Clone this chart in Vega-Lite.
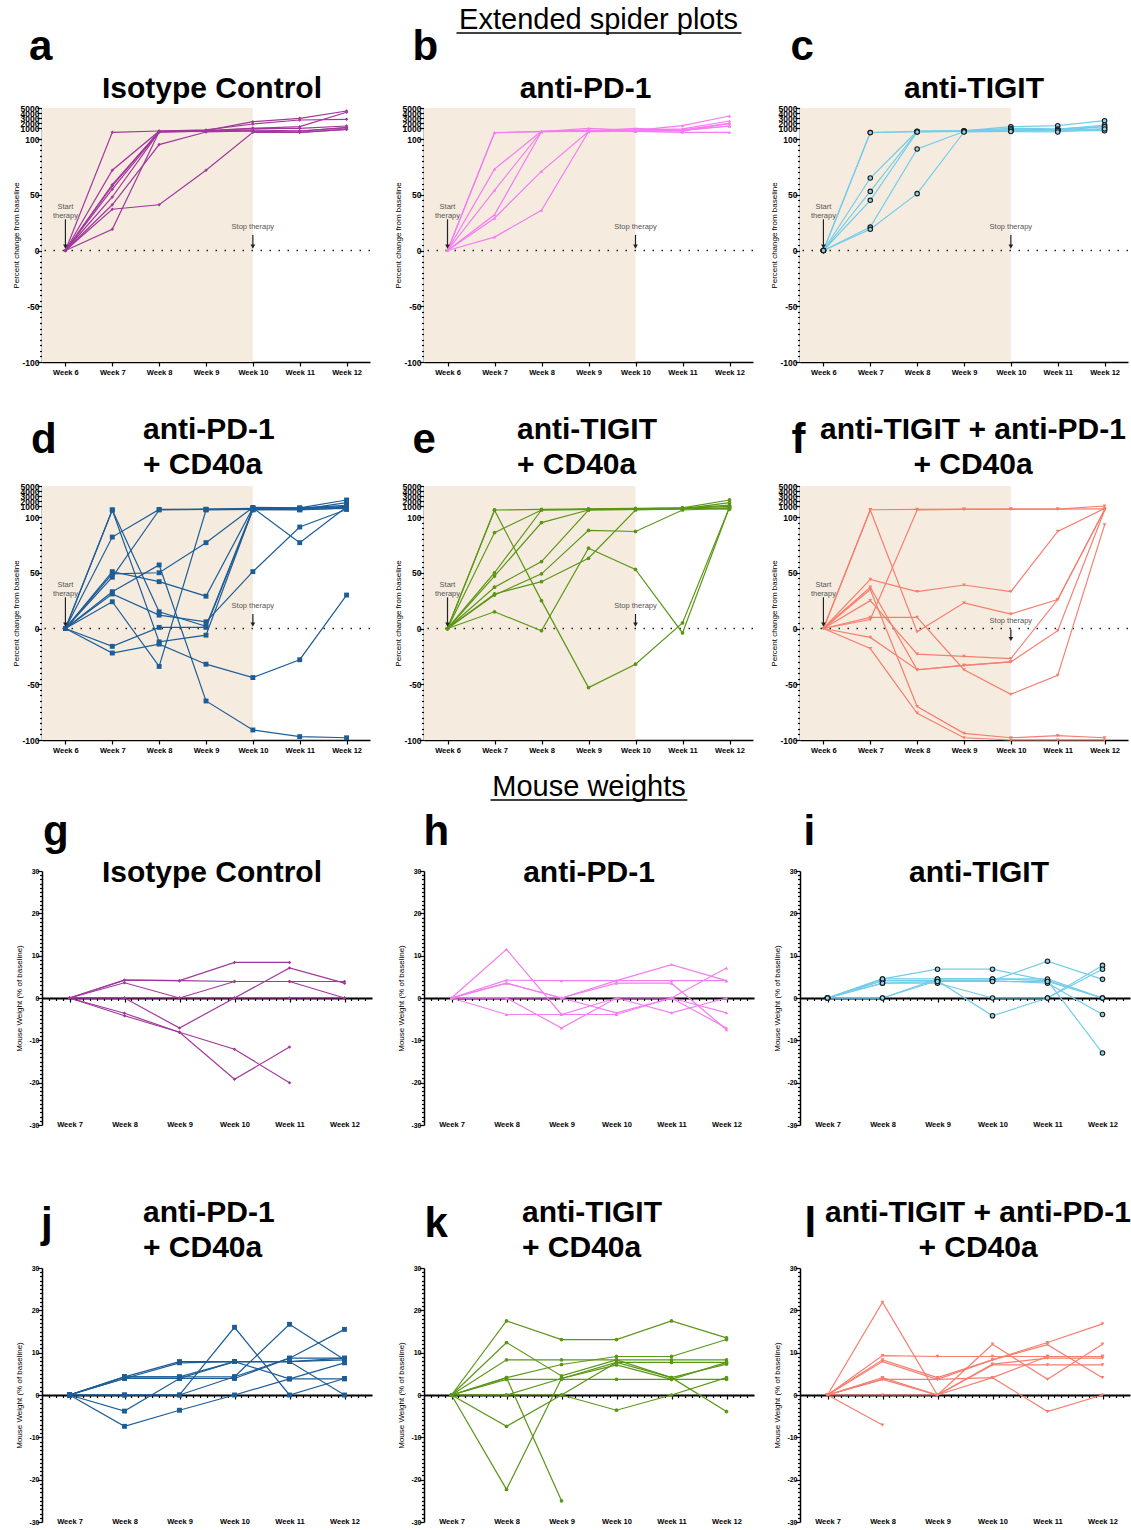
{
"$schema": "https://vega.github.io/schema/vega-lite/v6.json",
"padding": {"left": 12, "top": 0, "right": 0, "bottom": 0},
"background": "white",
"config": {
  "font": "Liberation Sans",
  "view": {"stroke": null},
  "axis": {"domainColor": "#000", "domainWidth": 1.5, "tickColor": "#000", "tickWidth": 1.2, "labelColor": "#000", "labelFont": "Liberation Sans", "labelFontWeight": "bold", "labelFontSize": 7.5, "titleFont": "Liberation Sans", "titleFontWeight": "normal", "titleFontSize": 8, "titleColor": "#000", "grid": false, "labelOverlap": false, "labelFlush": false},
  "title": {"font": "Liberation Sans", "color": "#000", "fontWeight": "bold"}
},
"datasets": {
"spider": [
{"p":"a","m":1,"w":6,"v":0},{"p":"a","m":1,"w":7,"v":240},{"p":"a","m":1,"w":8,"v":490},{"p":"a","m":1,"w":9,"v":560},{"p":"a","m":1,"w":10,"v":2320},{"p":"a","m":1,"w":11,"v":2980},{"p":"a","m":1,"w":12,"v":4413},
{"p":"a","m":2,"w":6,"v":0},{"p":"a","m":2,"w":7,"v":72},{"p":"a","m":2,"w":8,"v":450},{"p":"a","m":2,"w":9,"v":700},{"p":"a","m":2,"w":10,"v":1860},{"p":"a","m":2,"w":11,"v":2650},{"p":"a","m":2,"w":12,"v":2790},
{"p":"a","m":3,"w":6,"v":0},{"p":"a","m":3,"w":7,"v":59},{"p":"a","m":3,"w":8,"v":400},{"p":"a","m":3,"w":9,"v":560},{"p":"a","m":3,"w":10,"v":1020},{"p":"a","m":3,"w":11,"v":1340},{"p":"a","m":3,"w":12,"v":4160},
{"p":"a","m":4,"w":6,"v":0},{"p":"a","m":4,"w":7,"v":58},{"p":"a","m":4,"w":8,"v":360},{"p":"a","m":4,"w":9,"v":490},{"p":"a","m":4,"w":10,"v":1020},{"p":"a","m":4,"w":11,"v":1020},{"p":"a","m":4,"w":12,"v":1470},
{"p":"a","m":5,"w":6,"v":0},{"p":"a","m":5,"w":7,"v":48},{"p":"a","m":5,"w":8,"v":320},{"p":"a","m":5,"w":9,"v":450},{"p":"a","m":5,"w":10,"v":700},{"p":"a","m":5,"w":11,"v":490},{"p":"a","m":5,"w":12,"v":1140},
{"p":"a","m":6,"w":6,"v":0},{"p":"a","m":6,"w":7,"v":41},{"p":"a","m":6,"w":8,"v":95},{"p":"a","m":6,"w":9,"v":300},{"p":"a","m":6,"w":10,"v":490},{"p":"a","m":6,"w":11,"v":240},{"p":"a","m":6,"w":12,"v":830},
{"p":"a","m":7,"w":6,"v":0},{"p":"a","m":7,"w":7,"v":37},{"p":"a","m":7,"w":8,"v":41},{"p":"a","m":7,"w":9,"v":72},{"p":"a","m":7,"w":10,"v":240},{"p":"a","m":7,"w":11,"v":240},{"p":"a","m":7,"w":12,"v":830},
{"p":"a","m":8,"w":6,"v":0},{"p":"a","m":8,"w":7,"v":19},{"p":"a","m":8,"w":8,"v":350},{"p":"a","m":8,"w":9,"v":400},{"p":"a","m":8,"w":10,"v":490},{"p":"a","m":8,"w":11,"v":490},{"p":"a","m":8,"w":12,"v":1140},
{"p":"a","m":9,"w":6,"v":0},{"p":"a","m":9,"w":7,"v":55},{"p":"a","m":9,"w":8,"v":300},{"p":"a","m":9,"w":9,"v":450},
{"p":"b","m":1,"w":6,"v":0},{"p":"b","m":1,"w":7,"v":180},{"p":"b","m":1,"w":8,"v":400},{"p":"b","m":1,"w":9,"v":1000},{"p":"b","m":1,"w":10,"v":600},{"p":"b","m":1,"w":11,"v":1530},{"p":"b","m":1,"w":12,"v":3430},
{"p":"b","m":2,"w":6,"v":0},{"p":"b","m":2,"w":7,"v":150},{"p":"b","m":2,"w":8,"v":350},{"p":"b","m":2,"w":9,"v":500},{"p":"b","m":2,"w":10,"v":700},{"p":"b","m":2,"w":11,"v":900},{"p":"b","m":2,"w":12,"v":2450},
{"p":"b","m":3,"w":6,"v":0},{"p":"b","m":3,"w":7,"v":73},{"p":"b","m":3,"w":8,"v":450},{"p":"b","m":3,"w":9,"v":600},{"p":"b","m":3,"w":10,"v":500},{"p":"b","m":3,"w":11,"v":700},{"p":"b","m":3,"w":12,"v":2000},
{"p":"b","m":4,"w":6,"v":0},{"p":"b","m":4,"w":7,"v":54},{"p":"b","m":4,"w":8,"v":400},{"p":"b","m":4,"w":9,"v":500},{"p":"b","m":4,"w":10,"v":1000},{"p":"b","m":4,"w":11,"v":600},{"p":"b","m":4,"w":12,"v":1470},
{"p":"b","m":5,"w":6,"v":0},{"p":"b","m":5,"w":7,"v":32},{"p":"b","m":5,"w":8,"v":350},{"p":"b","m":5,"w":9,"v":400},{"p":"b","m":5,"w":10,"v":400},{"p":"b","m":5,"w":11,"v":240},{"p":"b","m":5,"w":12,"v":240},
{"p":"b","m":6,"w":6,"v":0},{"p":"b","m":6,"w":7,"v":29},{"p":"b","m":6,"w":8,"v":71},{"p":"b","m":6,"w":9,"v":400},{"p":"b","m":6,"w":10,"v":500},{"p":"b","m":6,"w":11,"v":600},{"p":"b","m":6,"w":12,"v":1470},
{"p":"b","m":7,"w":6,"v":0},{"p":"b","m":7,"w":7,"v":12},{"p":"b","m":7,"w":8,"v":36},{"p":"b","m":7,"w":9,"v":350},{"p":"b","m":7,"w":10,"v":450},{"p":"b","m":7,"w":11,"v":500},{"p":"b","m":7,"w":12,"v":2000},
{"p":"c","m":1,"w":6,"v":0},{"p":"c","m":1,"w":7,"v":200},{"p":"c","m":1,"w":8,"v":400},{"p":"c","m":1,"w":9,"v":500},{"p":"c","m":1,"w":10,"v":1340},{"p":"c","m":1,"w":11,"v":1530},{"p":"c","m":1,"w":12,"v":2510},
{"p":"c","m":2,"w":6,"v":0},{"p":"c","m":2,"w":7,"v":180},{"p":"c","m":2,"w":8,"v":350},{"p":"c","m":2,"w":9,"v":450},{"p":"c","m":2,"w":10,"v":700},{"p":"c","m":2,"w":11,"v":800},{"p":"c","m":2,"w":12,"v":1670},
{"p":"c","m":3,"w":6,"v":0},{"p":"c","m":3,"w":7,"v":65},{"p":"c","m":3,"w":8,"v":450},{"p":"c","m":3,"w":9,"v":550},{"p":"c","m":3,"w":10,"v":1000},{"p":"c","m":3,"w":11,"v":900},{"p":"c","m":3,"w":12,"v":1340},
{"p":"c","m":4,"w":6,"v":0},{"p":"c","m":4,"w":7,"v":53},{"p":"c","m":4,"w":8,"v":350},{"p":"c","m":4,"w":9,"v":450},{"p":"c","m":4,"w":10,"v":600},{"p":"c","m":4,"w":11,"v":700},{"p":"c","m":4,"w":12,"v":900},
{"p":"c","m":5,"w":6,"v":0},{"p":"c","m":5,"w":7,"v":45},{"p":"c","m":5,"w":8,"v":300},{"p":"c","m":5,"w":9,"v":400},{"p":"c","m":5,"w":10,"v":500},{"p":"c","m":5,"w":11,"v":500},{"p":"c","m":5,"w":12,"v":550},
{"p":"c","m":6,"w":6,"v":0},{"p":"c","m":6,"w":7,"v":21},{"p":"c","m":6,"w":8,"v":91},{"p":"c","m":6,"w":9,"v":400},{"p":"c","m":6,"w":10,"v":700},{"p":"c","m":6,"w":11,"v":600},{"p":"c","m":6,"w":12,"v":1340},
{"p":"c","m":7,"w":6,"v":0},{"p":"c","m":7,"w":7,"v":19},{"p":"c","m":7,"w":8,"v":51},{"p":"c","m":7,"w":9,"v":300},{"p":"c","m":7,"w":10,"v":400},{"p":"c","m":7,"w":11,"v":300},{"p":"c","m":7,"w":12,"v":900},
{"p":"d","m":1,"w":6,"v":0},{"p":"d","m":1,"w":7,"v":300},{"p":"d","m":1,"w":8,"v":-12},{"p":"d","m":1,"w":9,"v":-6},{"p":"d","m":1,"w":10,"v":400},{"p":"d","m":1,"w":11,"v":300},{"p":"d","m":1,"w":12,"v":700},
{"p":"d","m":2,"w":6,"v":0},{"p":"d","m":2,"w":7,"v":33},{"p":"d","m":2,"w":8,"v":57},{"p":"d","m":2,"w":9,"v":-65},{"p":"d","m":2,"w":10,"v":-91},{"p":"d","m":2,"w":11,"v":-97},{"p":"d","m":2,"w":12,"v":-98},
{"p":"d","m":3,"w":6,"v":0},{"p":"d","m":3,"w":7,"v":82},{"p":"d","m":3,"w":8,"v":400},{"p":"d","m":3,"w":9,"v":450},{"p":"d","m":3,"w":10,"v":600},{"p":"d","m":3,"w":11,"v":700},{"p":"d","m":3,"w":12,"v":1200},
{"p":"d","m":4,"w":6,"v":0},{"p":"d","m":4,"w":7,"v":51},{"p":"d","m":4,"w":8,"v":42},{"p":"d","m":4,"w":9,"v":29},{"p":"d","m":4,"w":10,"v":700},{"p":"d","m":4,"w":11,"v":77},{"p":"d","m":4,"w":12,"v":900},
{"p":"d","m":5,"w":6,"v":0},{"p":"d","m":5,"w":7,"v":300},{"p":"d","m":5,"w":8,"v":15},{"p":"d","m":5,"w":9,"v":2},{"p":"d","m":5,"w":10,"v":500},{"p":"d","m":5,"w":11,"v":600},{"p":"d","m":5,"w":12,"v":800},
{"p":"d","m":6,"w":6,"v":0},{"p":"d","m":6,"w":7,"v":46},{"p":"d","m":6,"w":8,"v":300},{"p":"d","m":6,"w":9,"v":400},{"p":"d","m":6,"w":10,"v":500},{"p":"d","m":6,"w":11,"v":400},{"p":"d","m":6,"w":12,"v":1730},
{"p":"d","m":7,"w":6,"v":0},{"p":"d","m":7,"w":7,"v":31},{"p":"d","m":7,"w":8,"v":12},{"p":"d","m":7,"w":9,"v":6},{"p":"d","m":7,"w":10,"v":51},{"p":"d","m":7,"w":11,"v":91},{"p":"d","m":7,"w":12,"v":400},
{"p":"d","m":8,"w":6,"v":0},{"p":"d","m":8,"w":7,"v":24},{"p":"d","m":8,"w":8,"v":-34},{"p":"d","m":8,"w":9,"v":300},{"p":"d","m":8,"w":10,"v":400},{"p":"d","m":8,"w":11,"v":500},{"p":"d","m":8,"w":12,"v":1000},
{"p":"d","m":9,"w":6,"v":0},{"p":"d","m":9,"w":7,"v":-16},{"p":"d","m":9,"w":8,"v":1},{"p":"d","m":9,"w":9,"v":1},{"p":"d","m":9,"w":10,"v":300},{"p":"d","m":9,"w":11,"v":400},{"p":"d","m":9,"w":12,"v":600},
{"p":"d","m":10,"w":6,"v":0},{"p":"d","m":10,"w":7,"v":-22},{"p":"d","m":10,"w":8,"v":-14},{"p":"d","m":10,"w":9,"v":-32},{"p":"d","m":10,"w":10,"v":-44},{"p":"d","m":10,"w":11,"v":-28},{"p":"d","m":10,"w":12,"v":30},
{"p":"d","m":11,"w":6,"v":0},{"p":"d","m":11,"w":7,"v":49},{"p":"d","m":11,"w":8,"v":50},{"p":"d","m":11,"w":9,"v":77},{"p":"d","m":11,"w":10,"v":800},{"p":"d","m":11,"w":11,"v":700},{"p":"d","m":11,"w":12,"v":2260},
{"p":"e","m":1,"w":6,"v":0},{"p":"e","m":1,"w":7,"v":300},{"p":"e","m":1,"w":8,"v":400},{"p":"e","m":1,"w":9,"v":500},{"p":"e","m":1,"w":10,"v":600},{"p":"e","m":1,"w":11,"v":700},{"p":"e","m":1,"w":12,"v":2260},
{"p":"e","m":2,"w":6,"v":0},{"p":"e","m":2,"w":7,"v":250},{"p":"e","m":2,"w":8,"v":25},{"p":"e","m":2,"w":9,"v":-53},{"p":"e","m":2,"w":10,"v":-32},{"p":"e","m":2,"w":11,"v":5},{"p":"e","m":2,"w":12,"v":840},
{"p":"e","m":3,"w":6,"v":0},{"p":"e","m":3,"w":7,"v":86},{"p":"e","m":3,"w":8,"v":300},{"p":"e","m":3,"w":9,"v":400},{"p":"e","m":3,"w":10,"v":500},{"p":"e","m":3,"w":11,"v":600},{"p":"e","m":3,"w":12,"v":1000},
{"p":"e","m":4,"w":6,"v":0},{"p":"e","m":4,"w":7,"v":31},{"p":"e","m":4,"w":8,"v":42},{"p":"e","m":4,"w":9,"v":63},{"p":"e","m":4,"w":10,"v":300},{"p":"e","m":4,"w":11,"v":500},{"p":"e","m":4,"w":12,"v":700},
{"p":"e","m":5,"w":6,"v":0},{"p":"e","m":5,"w":7,"v":15},{"p":"e","m":5,"w":8,"v":-2},{"p":"e","m":5,"w":9,"v":72},{"p":"e","m":5,"w":10,"v":53},{"p":"e","m":5,"w":11,"v":-4},{"p":"e","m":5,"w":12,"v":840},
{"p":"e","m":6,"w":6,"v":0},{"p":"e","m":6,"w":7,"v":30},{"p":"e","m":6,"w":8,"v":49},{"p":"e","m":6,"w":9,"v":88},{"p":"e","m":6,"w":10,"v":87},{"p":"e","m":6,"w":11,"v":300},{"p":"e","m":6,"w":12,"v":600},
{"p":"e","m":7,"w":6,"v":0},{"p":"e","m":7,"w":7,"v":37},{"p":"e","m":7,"w":8,"v":60},{"p":"e","m":7,"w":9,"v":300},{"p":"e","m":7,"w":10,"v":400},{"p":"e","m":7,"w":11,"v":500},{"p":"e","m":7,"w":12,"v":1730},
{"p":"e","m":8,"w":6,"v":0},{"p":"e","m":8,"w":7,"v":47},{"p":"e","m":8,"w":8,"v":95},{"p":"e","m":8,"w":9,"v":300},{"p":"e","m":8,"w":10,"v":400},{"p":"e","m":8,"w":11,"v":600},{"p":"e","m":8,"w":12,"v":1250},
{"p":"e","m":9,"w":6,"v":0},{"p":"e","m":9,"w":7,"v":50},{"p":"e","m":9,"w":8,"v":300},{"p":"e","m":9,"w":9,"v":400},{"p":"e","m":9,"w":10,"v":500},{"p":"e","m":9,"w":11,"v":700},{"p":"e","m":9,"w":12,"v":440},
{"p":"f","m":1,"w":6,"v":0},{"p":"f","m":1,"w":7,"v":350},{"p":"f","m":1,"w":8,"v":400},{"p":"f","m":1,"w":9,"v":450},{"p":"f","m":1,"w":10,"v":450},{"p":"f","m":1,"w":11,"v":450},{"p":"f","m":1,"w":12,"v":1080},
{"p":"f","m":2,"w":6,"v":0},{"p":"f","m":2,"w":7,"v":10},{"p":"f","m":2,"w":8,"v":10},{"p":"f","m":2,"w":9,"v":-37},{"p":"f","m":2,"w":10,"v":-59},{"p":"f","m":2,"w":11,"v":-42},{"p":"f","m":2,"w":12,"v":93},
{"p":"f","m":3,"w":6,"v":0},{"p":"f","m":3,"w":7,"v":44},{"p":"f","m":3,"w":8,"v":33},{"p":"f","m":3,"w":9,"v":39},{"p":"f","m":3,"w":10,"v":33},{"p":"f","m":3,"w":11,"v":87},{"p":"f","m":3,"w":12,"v":600},
{"p":"f","m":4,"w":6,"v":0},{"p":"f","m":4,"w":7,"v":300},{"p":"f","m":4,"w":8,"v":-3},{"p":"f","m":4,"w":9,"v":23},{"p":"f","m":4,"w":10,"v":13},{"p":"f","m":4,"w":11,"v":26},{"p":"f","m":4,"w":12,"v":400},
{"p":"f","m":5,"w":6,"v":0},{"p":"f","m":5,"w":7,"v":25},{"p":"f","m":5,"w":8,"v":-23},{"p":"f","m":5,"w":9,"v":-25},{"p":"f","m":5,"w":10,"v":-27},{"p":"f","m":5,"w":11,"v":26},{"p":"f","m":5,"w":12,"v":300},
{"p":"f","m":6,"w":6,"v":0},{"p":"f","m":6,"w":7,"v":8},{"p":"f","m":6,"w":8,"v":300},{"p":"f","m":6,"w":9,"v":400},{"p":"f","m":6,"w":10,"v":450},{"p":"f","m":6,"w":11,"v":450},{"p":"f","m":6,"w":12,"v":500},
{"p":"f","m":7,"w":6,"v":0},{"p":"f","m":7,"w":7,"v":37},{"p":"f","m":7,"w":8,"v":-37},{"p":"f","m":7,"w":9,"v":-33},{"p":"f","m":7,"w":10,"v":-30},{"p":"f","m":7,"w":11,"v":-2},{"p":"f","m":7,"w":12,"v":200},
{"p":"f","m":8,"w":6,"v":0},{"p":"f","m":8,"w":7,"v":35},{"p":"f","m":8,"w":8,"v":-70},{"p":"f","m":8,"w":9,"v":-94},{"p":"f","m":8,"w":10,"v":-98},{"p":"f","m":8,"w":11,"v":-96},{"p":"f","m":8,"w":12,"v":-98},
{"p":"f","m":9,"w":6,"v":0},{"p":"f","m":9,"w":7,"v":-18},{"p":"f","m":9,"w":8,"v":-76},{"p":"f","m":9,"w":9,"v":-98},{"p":"f","m":9,"w":10,"v":-100},{"p":"f","m":9,"w":11,"v":-100},{"p":"f","m":9,"w":12,"v":-100},
{"p":"f","m":10,"w":6,"v":0},{"p":"f","m":10,"w":7,"v":-8},{"p":"f","m":10,"w":8,"v":-37},{"p":"f","m":10,"w":9,"v":-33},{"p":"f","m":10,"w":10,"v":-30}
],
"weight": [
{"p":"g","m":1,"w":7,"v":0},{"p":"g","m":1,"w":8,"v":4.2},{"p":"g","m":1,"w":9,"v":4.1},{"p":"g","m":1,"w":10,"v":8.4},{"p":"g","m":1,"w":11,"v":8.4},
{"p":"g","m":2,"w":7,"v":0},{"p":"g","m":2,"w":8,"v":4.2},{"p":"g","m":2,"w":9,"v":4.1},{"p":"g","m":2,"w":10,"v":3.9},{"p":"g","m":2,"w":11,"v":3.9},{"p":"g","m":2,"w":12,"v":3.9},
{"p":"g","m":3,"w":7,"v":0},{"p":"g","m":3,"w":8,"v":3.6},{"p":"g","m":3,"w":9,"v":0},{"p":"g","m":3,"w":10,"v":3.9},{"p":"g","m":3,"w":11,"v":3.9},{"p":"g","m":3,"w":12,"v":0},
{"p":"g","m":4,"w":7,"v":0},{"p":"g","m":4,"w":8,"v":0},{"p":"g","m":4,"w":9,"v":0},{"p":"g","m":4,"w":10,"v":0},{"p":"g","m":4,"w":11,"v":0},{"p":"g","m":4,"w":12,"v":0},
{"p":"g","m":5,"w":7,"v":0},{"p":"g","m":5,"w":8,"v":0},{"p":"g","m":5,"w":9,"v":-7.1},{"p":"g","m":5,"w":10,"v":0},{"p":"g","m":5,"w":11,"v":7.1},{"p":"g","m":5,"w":12,"v":3.5},
{"p":"g","m":6,"w":7,"v":0},{"p":"g","m":6,"w":8,"v":-3.6},{"p":"g","m":6,"w":9,"v":-8.1},{"p":"g","m":6,"w":10,"v":-12.1},{"p":"g","m":6,"w":11,"v":-20},
{"p":"g","m":7,"w":7,"v":0},{"p":"g","m":7,"w":8,"v":-4.2},{"p":"g","m":7,"w":9,"v":-8.1},{"p":"g","m":7,"w":10,"v":-19.2},{"p":"g","m":7,"w":11,"v":-11.6},
{"p":"h","m":1,"w":7,"v":0},{"p":"h","m":1,"w":8,"v":11.5},{"p":"h","m":1,"w":9,"v":-3.9},{"p":"h","m":1,"w":10,"v":0},{"p":"h","m":1,"w":11,"v":-3.5},{"p":"h","m":1,"w":12,"v":0},
{"p":"h","m":2,"w":7,"v":0},{"p":"h","m":2,"w":8,"v":4.2},{"p":"h","m":2,"w":9,"v":4.1},{"p":"h","m":2,"w":10,"v":4.1},{"p":"h","m":2,"w":11,"v":4.1},{"p":"h","m":2,"w":12,"v":4.1},
{"p":"h","m":3,"w":7,"v":0},{"p":"h","m":3,"w":8,"v":3.5},{"p":"h","m":3,"w":9,"v":0},{"p":"h","m":3,"w":10,"v":3.5},{"p":"h","m":3,"w":11,"v":3.5},{"p":"h","m":3,"w":12,"v":-7.5},
{"p":"h","m":4,"w":7,"v":0},{"p":"h","m":4,"w":8,"v":0},{"p":"h","m":4,"w":9,"v":0},{"p":"h","m":4,"w":10,"v":4.1},{"p":"h","m":4,"w":11,"v":7.9},{"p":"h","m":4,"w":12,"v":4.1},
{"p":"h","m":5,"w":7,"v":0},{"p":"h","m":5,"w":8,"v":0},{"p":"h","m":5,"w":9,"v":-7.1},{"p":"h","m":5,"w":10,"v":0},{"p":"h","m":5,"w":11,"v":0},{"p":"h","m":5,"w":12,"v":-7.1},
{"p":"h","m":6,"w":7,"v":0},{"p":"h","m":6,"w":8,"v":-3.9},{"p":"h","m":6,"w":9,"v":-3.9},{"p":"h","m":6,"w":10,"v":-3.9},{"p":"h","m":6,"w":11,"v":0},{"p":"h","m":6,"w":12,"v":-3.5},
{"p":"h","m":7,"w":7,"v":0},{"p":"h","m":7,"w":8,"v":3.5},{"p":"h","m":7,"w":9,"v":0},{"p":"h","m":7,"w":10,"v":-3.5},{"p":"h","m":7,"w":11,"v":0},{"p":"h","m":7,"w":12,"v":7.1},
{"p":"i","m":1,"w":7,"v":0},{"p":"i","m":1,"w":8,"v":4.5},{"p":"i","m":1,"w":9,"v":6.8},{"p":"i","m":1,"w":10,"v":6.8},{"p":"i","m":1,"w":11,"v":4.1},{"p":"i","m":1,"w":12,"v":0},
{"p":"i","m":2,"w":7,"v":0},{"p":"i","m":2,"w":8,"v":4.1},{"p":"i","m":2,"w":9,"v":4.1},{"p":"i","m":2,"w":10,"v":4.1},{"p":"i","m":2,"w":11,"v":8.7},{"p":"i","m":2,"w":12,"v":4.4},
{"p":"i","m":3,"w":7,"v":0},{"p":"i","m":3,"w":8,"v":3.5},{"p":"i","m":3,"w":9,"v":3.5},{"p":"i","m":3,"w":10,"v":0},{"p":"i","m":3,"w":11,"v":0},{"p":"i","m":3,"w":12,"v":7.7},
{"p":"i","m":4,"w":7,"v":0},{"p":"i","m":4,"w":8,"v":0},{"p":"i","m":4,"w":9,"v":4.1},{"p":"i","m":4,"w":10,"v":-4.2},{"p":"i","m":4,"w":11,"v":0},{"p":"i","m":4,"w":12,"v":6.8},
{"p":"i","m":5,"w":7,"v":0},{"p":"i","m":5,"w":8,"v":0},{"p":"i","m":5,"w":9,"v":4.5},{"p":"i","m":5,"w":10,"v":4.5},{"p":"i","m":5,"w":11,"v":4.1},{"p":"i","m":5,"w":12,"v":-13},
{"p":"i","m":6,"w":7,"v":0},{"p":"i","m":6,"w":8,"v":4.1},{"p":"i","m":6,"w":9,"v":4.1},{"p":"i","m":6,"w":10,"v":4.1},{"p":"i","m":6,"w":11,"v":3.5},{"p":"i","m":6,"w":12,"v":-3.9},
{"p":"i","m":7,"w":7,"v":0},{"p":"i","m":7,"w":8,"v":4.5},{"p":"i","m":7,"w":9,"v":4.5},{"p":"i","m":7,"w":10,"v":4.5},{"p":"i","m":7,"w":11,"v":4.5},{"p":"i","m":7,"w":12,"v":0},
{"p":"i","m":8,"w":7,"v":0},{"p":"i","m":8,"w":8,"v":3.5},{"p":"i","m":8,"w":9,"v":3.9},{"p":"i","m":8,"w":10,"v":3.9},{"p":"i","m":8,"w":11,"v":3.9},{"p":"i","m":8,"w":12,"v":0},
{"p":"j","m":1,"w":7,"v":0},{"p":"j","m":1,"w":8,"v":4.3},{"p":"j","m":1,"w":9,"v":7.9},{"p":"j","m":1,"w":10,"v":7.9},{"p":"j","m":1,"w":11,"v":7.9},{"p":"j","m":1,"w":12,"v":8.7},
{"p":"j","m":2,"w":7,"v":0},{"p":"j","m":2,"w":8,"v":3.9},{"p":"j","m":2,"w":9,"v":7.6},{"p":"j","m":2,"w":10,"v":7.9},{"p":"j","m":2,"w":11,"v":3.8},{"p":"j","m":2,"w":12,"v":3.8},
{"p":"j","m":3,"w":7,"v":0},{"p":"j","m":3,"w":8,"v":0},{"p":"j","m":3,"w":9,"v":0},{"p":"j","m":3,"w":10,"v":16},{"p":"j","m":3,"w":11,"v":0},{"p":"j","m":3,"w":12,"v":3.9},
{"p":"j","m":4,"w":7,"v":0},{"p":"j","m":4,"w":8,"v":4.3},{"p":"j","m":4,"w":9,"v":4.3},{"p":"j","m":4,"w":10,"v":4.3},{"p":"j","m":4,"w":11,"v":16.7},{"p":"j","m":4,"w":12,"v":8.3},
{"p":"j","m":5,"w":7,"v":0},{"p":"j","m":5,"w":8,"v":3.9},{"p":"j","m":5,"w":9,"v":3.9},{"p":"j","m":5,"w":10,"v":3.9},{"p":"j","m":5,"w":11,"v":8.7},{"p":"j","m":5,"w":12,"v":15.5},
{"p":"j","m":6,"w":7,"v":0},{"p":"j","m":6,"w":8,"v":-3.8},{"p":"j","m":6,"w":9,"v":3.9},{"p":"j","m":6,"w":10,"v":7.9},{"p":"j","m":6,"w":11,"v":7.9},{"p":"j","m":6,"w":12,"v":0},
{"p":"j","m":7,"w":7,"v":0},{"p":"j","m":7,"w":8,"v":-7.4},{"p":"j","m":7,"w":9,"v":-3.6},{"p":"j","m":7,"w":10,"v":0},{"p":"j","m":7,"w":11,"v":3.8},{"p":"j","m":7,"w":12,"v":7.6},
{"p":"j","m":8,"w":7,"v":0},{"p":"j","m":8,"w":8,"v":0},{"p":"j","m":8,"w":9,"v":0},{"p":"j","m":8,"w":10,"v":4.3},{"p":"j","m":8,"w":11,"v":8.7},{"p":"j","m":8,"w":12,"v":8.7},
{"p":"j","m":9,"w":7,"v":0},{"p":"j","m":9,"w":8,"v":4.3},{"p":"j","m":9,"w":9,"v":4.3},{"p":"j","m":9,"w":10,"v":7.9},{"p":"j","m":9,"w":11,"v":7.9},{"p":"j","m":9,"w":12,"v":8.3},
{"p":"k","m":1,"w":7,"v":0},{"p":"k","m":1,"w":8,"v":17.5},{"p":"k","m":1,"w":9,"v":13.1},{"p":"k","m":1,"w":10,"v":13.1},{"p":"k","m":1,"w":11,"v":17.5},{"p":"k","m":1,"w":12,"v":13.5},
{"p":"k","m":2,"w":7,"v":0},{"p":"k","m":2,"w":8,"v":12.4},{"p":"k","m":2,"w":9,"v":4.5},{"p":"k","m":2,"w":10,"v":8.3},{"p":"k","m":2,"w":11,"v":4.1},{"p":"k","m":2,"w":12,"v":-3.9},
{"p":"k","m":3,"w":7,"v":0},{"p":"k","m":3,"w":8,"v":8.3},{"p":"k","m":3,"w":9,"v":8.3},{"p":"k","m":3,"w":10,"v":8.3},{"p":"k","m":3,"w":11,"v":8.3},{"p":"k","m":3,"w":12,"v":8.3},
{"p":"k","m":4,"w":7,"v":0},{"p":"k","m":4,"w":8,"v":4.1},{"p":"k","m":4,"w":9,"v":7.2},{"p":"k","m":4,"w":10,"v":9.1},{"p":"k","m":4,"w":11,"v":9.1},{"p":"k","m":4,"w":12,"v":13.1},
{"p":"k","m":5,"w":7,"v":0},{"p":"k","m":5,"w":8,"v":3.7},{"p":"k","m":5,"w":9,"v":3.7},{"p":"k","m":5,"w":10,"v":3.7},{"p":"k","m":5,"w":11,"v":3.7},{"p":"k","m":5,"w":12,"v":3.7},
{"p":"k","m":6,"w":7,"v":0},{"p":"k","m":6,"w":8,"v":0},{"p":"k","m":6,"w":9,"v":0},{"p":"k","m":6,"w":10,"v":-3.6},{"p":"k","m":6,"w":11,"v":0},{"p":"k","m":6,"w":12,"v":4.1},
{"p":"k","m":7,"w":7,"v":0},{"p":"k","m":7,"w":8,"v":-7.4},{"p":"k","m":7,"w":9,"v":0},{"p":"k","m":7,"w":10,"v":7.7},{"p":"k","m":7,"w":11,"v":4.1},{"p":"k","m":7,"w":12,"v":7.3},
{"p":"k","m":8,"w":7,"v":0},{"p":"k","m":8,"w":8,"v":-22.3},{"p":"k","m":8,"w":9,"v":3.9},{"p":"k","m":8,"w":10,"v":7.1},{"p":"k","m":8,"w":11,"v":3.7},{"p":"k","m":8,"w":12,"v":7.7},
{"p":"k","m":9,"w":7,"v":0},{"p":"k","m":9,"w":8,"v":4.1},{"p":"k","m":9,"w":9,"v":-25},
{"p":"k","m":10,"w":7,"v":0},{"p":"k","m":10,"w":8,"v":0},{"p":"k","m":10,"w":9,"v":3.9},{"p":"k","m":10,"w":10,"v":7.7},{"p":"k","m":10,"w":11,"v":7.7},{"p":"k","m":10,"w":12,"v":7.7},
{"p":"l","m":1,"w":7,"v":0},{"p":"l","m":1,"w":8,"v":21.9},{"p":"l","m":1,"w":9,"v":0},{"p":"l","m":1,"w":10,"v":12},{"p":"l","m":1,"w":11,"v":3.7},{"p":"l","m":1,"w":12,"v":12},
{"p":"l","m":2,"w":7,"v":0},{"p":"l","m":2,"w":8,"v":9.3},{"p":"l","m":2,"w":9,"v":9.1},{"p":"l","m":2,"w":10,"v":9.1},{"p":"l","m":2,"w":11,"v":9.1},{"p":"l","m":2,"w":12,"v":9.1},
{"p":"l","m":3,"w":7,"v":0},{"p":"l","m":3,"w":8,"v":8.3},{"p":"l","m":3,"w":9,"v":4.1},{"p":"l","m":3,"w":10,"v":8.3},{"p":"l","m":3,"w":11,"v":12.4},{"p":"l","m":3,"w":12,"v":16.8},
{"p":"l","m":4,"w":7,"v":0},{"p":"l","m":4,"w":8,"v":7.9},{"p":"l","m":4,"w":9,"v":3.7},{"p":"l","m":4,"w":10,"v":8.3},{"p":"l","m":4,"w":11,"v":11.9},{"p":"l","m":4,"w":12,"v":4.1},
{"p":"l","m":5,"w":7,"v":0},{"p":"l","m":5,"w":8,"v":4.1},{"p":"l","m":5,"w":9,"v":0},{"p":"l","m":5,"w":10,"v":7.3},{"p":"l","m":5,"w":11,"v":8.7},{"p":"l","m":5,"w":12,"v":8.7},
{"p":"l","m":6,"w":7,"v":0},{"p":"l","m":6,"w":8,"v":3.7},{"p":"l","m":6,"w":9,"v":3.7},{"p":"l","m":6,"w":10,"v":4.1},{"p":"l","m":6,"w":11,"v":-3.9},{"p":"l","m":6,"w":12,"v":0},
{"p":"l","m":7,"w":7,"v":0},{"p":"l","m":7,"w":8,"v":0},{"p":"l","m":7,"w":9,"v":0},{"p":"l","m":7,"w":10,"v":4.1},{"p":"l","m":7,"w":11,"v":9.1},{"p":"l","m":7,"w":12,"v":9.1},
{"p":"l","m":8,"w":7,"v":0},{"p":"l","m":8,"w":8,"v":-7.1},
{"p":"l","m":9,"w":7,"v":0},{"p":"l","m":9,"w":8,"v":3.7},{"p":"l","m":9,"w":9,"v":0},{"p":"l","m":9,"w":10,"v":7.1},{"p":"l","m":9,"w":11,"v":7.1},{"p":"l","m":9,"w":12,"v":7.1}
]
},
"bounds": "flush",
"columns": 3,
"spacing": {"row": 0, "column": 46},
"concat": [
{"width": 335.5, "height": 108, "data": {"values": [{"t": "a"}]}, "mark": {"type": "text", "fontSize": 42, "fontWeight": "bold", "align": "left", "baseline": "alphabetic", "color": "#000"}, "encoding": {"x": {"datum": -0.0387, "type": "quantitative", "scale": {"domain": [0, 1]}, "axis": null}, "y": {"datum": 0.556, "type": "quantitative", "scale": {"domain": [0, 1], "reverse": true}, "axis": null}, "text": {"field": "t"}}},
{"width": 330, "height": 108, "layer": [
  {"data": {"values": [{"t": "b"}]}, "mark": {"type": "text", "fontSize": 42, "fontWeight": "bold", "align": "left", "baseline": "alphabetic", "color": "#000"}, "encoding": {"x": {"datum": -0.0348, "type": "quantitative", "scale": {"domain": [0, 1]}, "axis": null}, "y": {"datum": 0.556, "type": "quantitative", "scale": {"domain": [0, 1], "reverse": true}, "axis": null}, "text": {"field": "t"}}},
  {"data": {"values": [{"t": "Extended spider plots"}]}, "mark": {"type": "text", "fontSize": 29, "color": "#000", "baseline": "middle"}, "encoding": {"x": {"datum": 0.529, "type": "quantitative"}, "y": {"datum": 0.185, "type": "quantitative"}, "text": {"field": "t"}}},
  {"data": {"values": [{}]}, "mark": {"type": "rule", "strokeWidth": 1.5, "color": "#000"}, "encoding": {"x": {"datum": 0.0985, "type": "quantitative"}, "x2": {"datum": 0.962}, "y": {"datum": 0.306, "type": "quantitative"}}}
]},
{"width": 330, "height": 108, "data": {"values": [{"t": "c"}]}, "mark": {"type": "text", "fontSize": 42, "fontWeight": "bold", "align": "left", "baseline": "alphabetic", "color": "#000"}, "encoding": {"x": {"datum": -0.0288, "type": "quantitative", "scale": {"domain": [0, 1]}, "axis": null}, "y": {"datum": 0.556, "type": "quantitative", "scale": {"domain": [0, 1], "reverse": true}, "axis": null}, "text": {"field": "t"}}},

{"width": 328, "height": 254,
 "title": {"text": "Isotype Control", "fontSize": 30, "anchor": "middle", "frame": "group", "dx": 6, "offset": 0},
 "resolve": {"axis": {"y": "independent"}},
 "layer": [
  {"data": {"values": [{"x0": 5.5, "x1": 10}]}, "mark": {"type": "rect", "color": "#f5ecdf"}, "encoding": {"x": {"field": "x0", "type": "quantitative", "scale": {"domain": [5.5, 12.5], "nice": false, "zero": false}, "axis": {"values": [6,7,8,9,10,11,12], "labelExpr": "'Week ' + datum.value", "title": null, "tickSize": 4, "labelPadding": 2}}, "x2": {"field": "x1"}, "y": {"datum": -100, "type": "quantitative", "scale": {"domain": [-100, 100, 101, 5000], "range": [254, 31, 25, 0], "nice": false, "zero": false}, "axis": {"orient": "left", "values": [-100,-50,0,50,100,1000,2000,3000,4000,5000], "labelExpr": "'' + datum.value", "tickSize": 5, "labelFontSize": 8.5, "labelPadding": -2, "title": "Percent change from baseline", "titlePadding": 0}}, "y2": {"datum": 5000}}},
  {"data": {"values": [{}]}, "mark": {"type": "rule", "strokeDash": [1.5, 7.5], "strokeWidth": 1.5, "color": "#222"}, "encoding": {"y": {"datum": 0, "type": "quantitative", "axis": {"orient": "left", "values": [-95,-90,-85,-80,-75,-70,-65,-60,-55,-45,-40,-35,-30,-25,-20,-15,-10,-5,5,10,15,20,25,30,35,40,45,55,60,65,70,75,80,85,90,95], "labels": false, "tickSize": 2.5, "domain": false, "title": null}}}},
  {"data": {"name": "spider"}, "transform": [{"filter": "datum.p === 'a'"}], "mark": {"type": "line", "color": "#a1379c", "strokeWidth": 1.2}, "encoding": {"x": {"field": "w", "type": "quantitative"}, "y": {"field": "v", "type": "quantitative", "axis": null}, "detail": {"field": "m", "type": "nominal"}}},
  {"data": {"name": "spider"}, "transform": [{"filter": "datum.p === 'a'"}], "mark": {"type": "point", "shape": "diamond", "filled": true, "size": 12, "color": "#a1379c", "opacity": 1}, "encoding": {"x": {"field": "w", "type": "quantitative"}, "y": {"field": "v", "type": "quantitative", "axis": null}}},
  {"data": {"values": [{"w": 6, "v": 39, "t": "Start\ntherapy"}, {"w": 10, "v": 21.5, "t": "Stop therapy"}]}, "mark": {"type": "text", "fontSize": 7.5, "color": "#555", "lineBreak": "\n", "lineHeight": 8.5, "baseline": "middle"}, "encoding": {"x": {"field": "w", "type": "quantitative"}, "y": {"field": "v", "type": "quantitative", "axis": null}, "text": {"field": "t"}}},
  {"data": {"values": [{"w": 6, "a": 28, "b": 5}, {"w": 10, "a": 14, "b": 5}]}, "mark": {"type": "rule", "color": "#222", "strokeWidth": 1.2}, "encoding": {"x": {"field": "w", "type": "quantitative"}, "y": {"field": "a", "type": "quantitative", "axis": null}, "y2": {"field": "b"}}},
  {"data": {"values": [{"w": 6, "v": 3.5}, {"w": 10, "v": 3.5}]}, "mark": {"type": "point", "shape": "triangle-down", "filled": true, "color": "#222", "size": 22, "opacity": 1}, "encoding": {"x": {"field": "w", "type": "quantitative"}, "y": {"field": "v", "type": "quantitative", "axis": null}}}
 ]},
{"width": 329, "height": 254,
 "title": {"text": "anti-PD-1", "fontSize": 30, "anchor": "middle", "frame": "group", "dx": -3, "offset": 0},
 "resolve": {"axis": {"y": "independent"}},
 "layer": [
  {"data": {"values": [{"x0": 5.5, "x1": 10}]}, "mark": {"type": "rect", "color": "#f5ecdf"}, "encoding": {"x": {"field": "x0", "type": "quantitative", "scale": {"domain": [5.5, 12.5], "nice": false, "zero": false}, "axis": {"values": [6,7,8,9,10,11,12], "labelExpr": "'Week ' + datum.value", "title": null, "tickSize": 4, "labelPadding": 2}}, "x2": {"field": "x1"}, "y": {"datum": -100, "type": "quantitative", "scale": {"domain": [-100, 100, 101, 5000], "range": [254, 31, 25, 0], "nice": false, "zero": false}, "axis": {"orient": "left", "values": [-100,-50,0,50,100,1000,2000,3000,4000,5000], "labelExpr": "'' + datum.value", "tickSize": 5, "labelFontSize": 8.5, "labelPadding": -2, "title": "Percent change from baseline", "titlePadding": 0}}, "y2": {"datum": 5000}}},
  {"data": {"values": [{}]}, "mark": {"type": "rule", "strokeDash": [1.5, 7.5], "strokeWidth": 1.5, "color": "#222"}, "encoding": {"y": {"datum": 0, "type": "quantitative", "axis": {"orient": "left", "values": [-95,-90,-85,-80,-75,-70,-65,-60,-55,-45,-40,-35,-30,-25,-20,-15,-10,-5,5,10,15,20,25,30,35,40,45,55,60,65,70,75,80,85,90,95], "labels": false, "tickSize": 2.5, "domain": false, "title": null}}}},
  {"data": {"name": "spider"}, "transform": [{"filter": "datum.p === 'b'"}], "mark": {"type": "line", "color": "#f57cf0", "strokeWidth": 1.2}, "encoding": {"x": {"field": "w", "type": "quantitative"}, "y": {"field": "v", "type": "quantitative", "axis": null}, "detail": {"field": "m", "type": "nominal"}}},
  {"data": {"name": "spider"}, "transform": [{"filter": "datum.p === 'b'"}], "mark": {"type": "point", "shape": "triangle-up", "filled": true, "size": 12, "color": "#f57cf0", "opacity": 1}, "encoding": {"x": {"field": "w", "type": "quantitative"}, "y": {"field": "v", "type": "quantitative", "axis": null}}},
  {"data": {"values": [{"w": 6, "v": 39, "t": "Start\ntherapy"}, {"w": 10, "v": 21.5, "t": "Stop therapy"}]}, "mark": {"type": "text", "fontSize": 7.5, "color": "#555", "lineBreak": "\n", "lineHeight": 8.5, "baseline": "middle"}, "encoding": {"x": {"field": "w", "type": "quantitative"}, "y": {"field": "v", "type": "quantitative", "axis": null}, "text": {"field": "t"}}},
  {"data": {"values": [{"w": 6, "a": 28, "b": 5}, {"w": 10, "a": 14, "b": 5}]}, "mark": {"type": "rule", "color": "#222", "strokeWidth": 1.2}, "encoding": {"x": {"field": "w", "type": "quantitative"}, "y": {"field": "a", "type": "quantitative", "axis": null}, "y2": {"field": "b"}}},
  {"data": {"values": [{"w": 6, "v": 3.5}, {"w": 10, "v": 3.5}]}, "mark": {"type": "point", "shape": "triangle-down", "filled": true, "color": "#222", "size": 22, "opacity": 1}, "encoding": {"x": {"field": "w", "type": "quantitative"}, "y": {"field": "v", "type": "quantitative", "axis": null}}}
 ]},
{"width": 328, "height": 254,
 "title": {"text": "anti-TIGIT", "fontSize": 30, "anchor": "middle", "frame": "group", "dx": 10, "offset": 0},
 "resolve": {"axis": {"y": "independent"}},
 "layer": [
  {"data": {"values": [{"x0": 5.5, "x1": 10}]}, "mark": {"type": "rect", "color": "#f5ecdf"}, "encoding": {"x": {"field": "x0", "type": "quantitative", "scale": {"domain": [5.5, 12.5], "nice": false, "zero": false}, "axis": {"values": [6,7,8,9,10,11,12], "labelExpr": "'Week ' + datum.value", "title": null, "tickSize": 4, "labelPadding": 2}}, "x2": {"field": "x1"}, "y": {"datum": -100, "type": "quantitative", "scale": {"domain": [-100, 100, 101, 5000], "range": [254, 31, 25, 0], "nice": false, "zero": false}, "axis": {"orient": "left", "values": [-100,-50,0,50,100,1000,2000,3000,4000,5000], "labelExpr": "'' + datum.value", "tickSize": 5, "labelFontSize": 8.5, "labelPadding": -2, "title": "Percent change from baseline", "titlePadding": 0}}, "y2": {"datum": 5000}}},
  {"data": {"values": [{}]}, "mark": {"type": "rule", "strokeDash": [1.5, 7.5], "strokeWidth": 1.5, "color": "#222"}, "encoding": {"y": {"datum": 0, "type": "quantitative", "axis": {"orient": "left", "values": [-95,-90,-85,-80,-75,-70,-65,-60,-55,-45,-40,-35,-30,-25,-20,-15,-10,-5,5,10,15,20,25,30,35,40,45,55,60,65,70,75,80,85,90,95], "labels": false, "tickSize": 2.5, "domain": false, "title": null}}}},
  {"data": {"name": "spider"}, "transform": [{"filter": "datum.p === 'c'"}], "mark": {"type": "line", "color": "#72cdea", "strokeWidth": 1.2}, "encoding": {"x": {"field": "w", "type": "quantitative"}, "y": {"field": "v", "type": "quantitative", "axis": null}, "detail": {"field": "m", "type": "nominal"}}},
  {"data": {"name": "spider"}, "transform": [{"filter": "datum.p === 'c'"}], "mark": {"type": "point", "shape": "circle", "size": 20, "fill": "#8fd3ea", "stroke": "#1a1a1a", "strokeWidth": 1.1, "opacity": 1, "fillOpacity": 1}, "encoding": {"x": {"field": "w", "type": "quantitative"}, "y": {"field": "v", "type": "quantitative", "axis": null}}},
  {"data": {"values": [{"w": 6, "v": 39, "t": "Start\ntherapy"}, {"w": 10, "v": 21.5, "t": "Stop therapy"}]}, "mark": {"type": "text", "fontSize": 7.5, "color": "#555", "lineBreak": "\n", "lineHeight": 8.5, "baseline": "middle"}, "encoding": {"x": {"field": "w", "type": "quantitative"}, "y": {"field": "v", "type": "quantitative", "axis": null}, "text": {"field": "t"}}},
  {"data": {"values": [{"w": 6, "a": 28, "b": 5}, {"w": 10, "a": 14, "b": 5}]}, "mark": {"type": "rule", "color": "#222", "strokeWidth": 1.2}, "encoding": {"x": {"field": "w", "type": "quantitative"}, "y": {"field": "a", "type": "quantitative", "axis": null}, "y2": {"field": "b"}}},
  {"data": {"values": [{"w": 6, "v": 3.5}, {"w": 10, "v": 3.5}]}, "mark": {"type": "point", "shape": "triangle-down", "filled": true, "color": "#222", "size": 22, "opacity": 1}, "encoding": {"x": {"field": "w", "type": "quantitative"}, "y": {"field": "v", "type": "quantitative", "axis": null}}}
 ]},

{"width": 335.5, "height": 124, "data": {"values": [{"t": "d"}]}, "mark": {"type": "text", "fontSize": 42, "fontWeight": "bold", "align": "left", "baseline": "alphabetic", "color": "#000"}, "encoding": {"x": {"datum": -0.0328, "type": "quantitative", "scale": {"domain": [0, 1]}, "axis": null}, "y": {"datum": 0.734, "type": "quantitative", "scale": {"domain": [0, 1], "reverse": true}, "axis": null}, "text": {"field": "t"}}},
{"width": 330, "height": 124, "data": {"values": [{"t": "e"}]}, "mark": {"type": "text", "fontSize": 42, "fontWeight": "bold", "align": "left", "baseline": "alphabetic", "color": "#000"}, "encoding": {"x": {"datum": -0.0348, "type": "quantitative", "scale": {"domain": [0, 1]}, "axis": null}, "y": {"datum": 0.734, "type": "quantitative", "scale": {"domain": [0, 1], "reverse": true}, "axis": null}, "text": {"field": "t"}}},
{"width": 330, "height": 124, "data": {"values": [{"t": "f"}]}, "mark": {"type": "text", "fontSize": 42, "fontWeight": "bold", "align": "left", "baseline": "alphabetic", "color": "#000"}, "encoding": {"x": {"datum": -0.0258, "type": "quantitative", "scale": {"domain": [0, 1]}, "axis": null}, "y": {"datum": 0.734, "type": "quantitative", "scale": {"domain": [0, 1], "reverse": true}, "axis": null}, "text": {"field": "t"}}},

{"width": 328, "height": 254,
 "title": {"text": ["anti-PD-1", "+ CD40a"], "fontSize": 30, "lineHeight": 35, "anchor": "start", "align": "left", "frame": "group", "dx": 101, "offset": 2},
 "resolve": {"axis": {"y": "independent"}},
 "layer": [
  {"data": {"values": [{"x0": 5.5, "x1": 10}]}, "mark": {"type": "rect", "color": "#f5ecdf"}, "encoding": {"x": {"field": "x0", "type": "quantitative", "scale": {"domain": [5.5, 12.5], "nice": false, "zero": false}, "axis": {"values": [6,7,8,9,10,11,12], "labelExpr": "'Week ' + datum.value", "title": null, "tickSize": 4, "labelPadding": 2}}, "x2": {"field": "x1"}, "y": {"datum": -100, "type": "quantitative", "scale": {"domain": [-100, 100, 101, 5000], "range": [254, 31, 25, 0], "nice": false, "zero": false}, "axis": {"orient": "left", "values": [-100,-50,0,50,100,1000,2000,3000,4000,5000], "labelExpr": "'' + datum.value", "tickSize": 5, "labelFontSize": 8.5, "labelPadding": -2, "title": "Percent change from baseline", "titlePadding": 0}}, "y2": {"datum": 5000}}},
  {"data": {"values": [{}]}, "mark": {"type": "rule", "strokeDash": [1.5, 7.5], "strokeWidth": 1.5, "color": "#222"}, "encoding": {"y": {"datum": 0, "type": "quantitative", "axis": {"orient": "left", "values": [-95,-90,-85,-80,-75,-70,-65,-60,-55,-45,-40,-35,-30,-25,-20,-15,-10,-5,5,10,15,20,25,30,35,40,45,55,60,65,70,75,80,85,90,95], "labels": false, "tickSize": 2.5, "domain": false, "title": null}}}},
  {"data": {"name": "spider"}, "transform": [{"filter": "datum.p === 'd'"}], "mark": {"type": "line", "color": "#1d5d97", "strokeWidth": 1.2}, "encoding": {"x": {"field": "w", "type": "quantitative"}, "y": {"field": "v", "type": "quantitative", "axis": null}, "detail": {"field": "m", "type": "nominal"}}},
  {"data": {"name": "spider"}, "transform": [{"filter": "datum.p === 'd'"}], "mark": {"type": "point", "shape": "square", "filled": true, "size": 24, "color": "#1d5d97", "opacity": 1}, "encoding": {"x": {"field": "w", "type": "quantitative"}, "y": {"field": "v", "type": "quantitative", "axis": null}}},
  {"data": {"values": [{"w": 6, "v": 39, "t": "Start\ntherapy"}, {"w": 10, "v": 20, "t": "Stop therapy"}]}, "mark": {"type": "text", "fontSize": 7.5, "color": "#555", "lineBreak": "\n", "lineHeight": 8.5, "baseline": "middle"}, "encoding": {"x": {"field": "w", "type": "quantitative"}, "y": {"field": "v", "type": "quantitative", "axis": null}, "text": {"field": "t"}}},
  {"data": {"values": [{"w": 6, "a": 28, "b": 5}, {"w": 10, "a": 13, "b": 5}]}, "mark": {"type": "rule", "color": "#222", "strokeWidth": 1.2}, "encoding": {"x": {"field": "w", "type": "quantitative"}, "y": {"field": "a", "type": "quantitative", "axis": null}, "y2": {"field": "b"}}},
  {"data": {"values": [{"w": 6, "v": 3.5}, {"w": 10, "v": 3.5}]}, "mark": {"type": "point", "shape": "triangle-down", "filled": true, "color": "#222", "size": 22, "opacity": 1}, "encoding": {"x": {"field": "w", "type": "quantitative"}, "y": {"field": "v", "type": "quantitative", "axis": null}}}
 ]},
{"width": 329, "height": 254,
 "title": {"text": ["anti-TIGIT", "+ CD40a"], "fontSize": 30, "lineHeight": 35, "anchor": "start", "align": "left", "frame": "group", "dx": 93, "offset": 2},
 "resolve": {"axis": {"y": "independent"}},
 "layer": [
  {"data": {"values": [{"x0": 5.5, "x1": 10}]}, "mark": {"type": "rect", "color": "#f5ecdf"}, "encoding": {"x": {"field": "x0", "type": "quantitative", "scale": {"domain": [5.5, 12.5], "nice": false, "zero": false}, "axis": {"values": [6,7,8,9,10,11,12], "labelExpr": "'Week ' + datum.value", "title": null, "tickSize": 4, "labelPadding": 2}}, "x2": {"field": "x1"}, "y": {"datum": -100, "type": "quantitative", "scale": {"domain": [-100, 100, 101, 5000], "range": [254, 31, 25, 0], "nice": false, "zero": false}, "axis": {"orient": "left", "values": [-100,-50,0,50,100,1000,2000,3000,4000,5000], "labelExpr": "'' + datum.value", "tickSize": 5, "labelFontSize": 8.5, "labelPadding": -2, "title": "Percent change from baseline", "titlePadding": 0}}, "y2": {"datum": 5000}}},
  {"data": {"values": [{}]}, "mark": {"type": "rule", "strokeDash": [1.5, 7.5], "strokeWidth": 1.5, "color": "#222"}, "encoding": {"y": {"datum": 0, "type": "quantitative", "axis": {"orient": "left", "values": [-95,-90,-85,-80,-75,-70,-65,-60,-55,-45,-40,-35,-30,-25,-20,-15,-10,-5,5,10,15,20,25,30,35,40,45,55,60,65,70,75,80,85,90,95], "labels": false, "tickSize": 2.5, "domain": false, "title": null}}}},
  {"data": {"name": "spider"}, "transform": [{"filter": "datum.p === 'e'"}], "mark": {"type": "line", "color": "#5b9617", "strokeWidth": 1.2}, "encoding": {"x": {"field": "w", "type": "quantitative"}, "y": {"field": "v", "type": "quantitative", "axis": null}, "detail": {"field": "m", "type": "nominal"}}},
  {"data": {"name": "spider"}, "transform": [{"filter": "datum.p === 'e'"}], "mark": {"type": "point", "shape": "circle", "filled": true, "size": 14, "color": "#5b9617", "opacity": 1}, "encoding": {"x": {"field": "w", "type": "quantitative"}, "y": {"field": "v", "type": "quantitative", "axis": null}}},
  {"data": {"values": [{"w": 6, "v": 39, "t": "Start\ntherapy"}, {"w": 10, "v": 20, "t": "Stop therapy"}]}, "mark": {"type": "text", "fontSize": 7.5, "color": "#555", "lineBreak": "\n", "lineHeight": 8.5, "baseline": "middle"}, "encoding": {"x": {"field": "w", "type": "quantitative"}, "y": {"field": "v", "type": "quantitative", "axis": null}, "text": {"field": "t"}}},
  {"data": {"values": [{"w": 6, "a": 28, "b": 5}, {"w": 10, "a": 13, "b": 5}]}, "mark": {"type": "rule", "color": "#222", "strokeWidth": 1.2}, "encoding": {"x": {"field": "w", "type": "quantitative"}, "y": {"field": "a", "type": "quantitative", "axis": null}, "y2": {"field": "b"}}},
  {"data": {"values": [{"w": 6, "v": 3.5}, {"w": 10, "v": 3.5}]}, "mark": {"type": "point", "shape": "triangle-down", "filled": true, "color": "#222", "size": 22, "opacity": 1}, "encoding": {"x": {"field": "w", "type": "quantitative"}, "y": {"field": "v", "type": "quantitative", "axis": null}}}
 ]},
{"width": 328, "height": 254,
 "title": {"text": ["anti-TIGIT + anti-PD-1", "+ CD40a"], "fontSize": 30, "lineHeight": 35, "anchor": "middle", "frame": "group", "dx": 9, "offset": 2},
 "resolve": {"axis": {"y": "independent"}},
 "layer": [
  {"data": {"values": [{"x0": 5.5, "x1": 10}]}, "mark": {"type": "rect", "color": "#f5ecdf"}, "encoding": {"x": {"field": "x0", "type": "quantitative", "scale": {"domain": [5.5, 12.5], "nice": false, "zero": false}, "axis": {"values": [6,7,8,9,10,11,12], "labelExpr": "'Week ' + datum.value", "title": null, "tickSize": 4, "labelPadding": 2}}, "x2": {"field": "x1"}, "y": {"datum": -100, "type": "quantitative", "scale": {"domain": [-100, 100, 101, 5000], "range": [254, 31, 25, 0], "nice": false, "zero": false}, "axis": {"orient": "left", "values": [-100,-50,0,50,100,1000,2000,3000,4000,5000], "labelExpr": "'' + datum.value", "tickSize": 5, "labelFontSize": 8.5, "labelPadding": -2, "title": "Percent change from baseline", "titlePadding": 0}}, "y2": {"datum": 5000}}},
  {"data": {"values": [{}]}, "mark": {"type": "rule", "strokeDash": [1.5, 7.5], "strokeWidth": 1.5, "color": "#222"}, "encoding": {"y": {"datum": 0, "type": "quantitative", "axis": {"orient": "left", "values": [-95,-90,-85,-80,-75,-70,-65,-60,-55,-45,-40,-35,-30,-25,-20,-15,-10,-5,5,10,15,20,25,30,35,40,45,55,60,65,70,75,80,85,90,95], "labels": false, "tickSize": 2.5, "domain": false, "title": null}}}},
  {"data": {"name": "spider"}, "transform": [{"filter": "datum.p === 'f'"}], "mark": {"type": "line", "color": "#f67e6f", "strokeWidth": 1.2}, "encoding": {"x": {"field": "w", "type": "quantitative"}, "y": {"field": "v", "type": "quantitative", "axis": null}, "detail": {"field": "m", "type": "nominal"}}},
  {"data": {"name": "spider"}, "transform": [{"filter": "datum.p === 'f'"}], "mark": {"type": "point", "shape": "triangle-down", "filled": true, "size": 14, "color": "#f67e6f", "opacity": 1}, "encoding": {"x": {"field": "w", "type": "quantitative"}, "y": {"field": "v", "type": "quantitative", "axis": null}}},
  {"data": {"values": [{"w": 6, "v": 39, "t": "Start\ntherapy"}, {"w": 10, "v": 7, "t": "Stop therapy"}]}, "mark": {"type": "text", "fontSize": 7.5, "color": "#555", "lineBreak": "\n", "lineHeight": 8.5, "baseline": "middle"}, "encoding": {"x": {"field": "w", "type": "quantitative"}, "y": {"field": "v", "type": "quantitative", "axis": null}, "text": {"field": "t"}}},
  {"data": {"values": [{"w": 6, "a": 28, "b": 5}, {"w": 10, "a": -1, "b": -8}]}, "mark": {"type": "rule", "color": "#222", "strokeWidth": 1.2}, "encoding": {"x": {"field": "w", "type": "quantitative"}, "y": {"field": "a", "type": "quantitative", "axis": null}, "y2": {"field": "b"}}},
  {"data": {"values": [{"w": 6, "v": 3.5}, {"w": 10, "v": -9.5}]}, "mark": {"type": "point", "shape": "triangle-down", "filled": true, "color": "#222", "size": 22, "opacity": 1}, "encoding": {"x": {"field": "w", "type": "quantitative"}, "y": {"field": "v", "type": "quantitative", "axis": null}}}
 ]},

{"width": 335.5, "height": 131, "data": {"values": [{"t": "g"}]}, "mark": {"type": "text", "fontSize": 42, "fontWeight": "bold", "align": "left", "baseline": "alphabetic", "color": "#000"}, "encoding": {"x": {"datum": 0.003, "type": "quantitative", "scale": {"domain": [0, 1]}, "axis": null}, "y": {"datum": 0.802, "type": "quantitative", "scale": {"domain": [0, 1], "reverse": true}, "axis": null}, "text": {"field": "t"}}},
{"width": 330, "height": 131, "layer": [
  {"data": {"values": [{"t": "h"}]}, "mark": {"type": "text", "fontSize": 42, "fontWeight": "bold", "align": "left", "baseline": "alphabetic", "color": "#000"}, "encoding": {"x": {"datum": -0.0015, "type": "quantitative", "scale": {"domain": [0, 1]}, "axis": null}, "y": {"datum": 0.802, "type": "quantitative", "scale": {"domain": [0, 1], "reverse": true}, "axis": null}, "text": {"field": "t"}}},
  {"data": {"values": [{"t": "Mouse weights"}]}, "mark": {"type": "text", "fontSize": 29, "color": "#000", "baseline": "middle"}, "encoding": {"x": {"datum": 0.5, "type": "quantitative"}, "y": {"datum": 0.359, "type": "quantitative"}, "text": {"field": "t"}}},
  {"data": {"values": [{}]}, "mark": {"type": "rule", "strokeWidth": 1.5, "color": "#000"}, "encoding": {"x": {"datum": 0.2015, "type": "quantitative"}, "x2": {"datum": 0.798}, "y": {"datum": 0.458, "type": "quantitative"}}}
]},
{"width": 330, "height": 131, "data": {"values": [{"t": "i"}]}, "mark": {"type": "text", "fontSize": 42, "fontWeight": "bold", "align": "left", "baseline": "alphabetic", "color": "#000"}, "encoding": {"x": {"datum": 0.0106, "type": "quantitative", "scale": {"domain": [0, 1]}, "axis": null}, "y": {"datum": 0.802, "type": "quantitative", "scale": {"domain": [0, 1], "reverse": true}, "axis": null}, "text": {"field": "t"}}},

{"width": 330, "height": 254,
 "title": {"text": "Isotype Control", "fontSize": 30, "anchor": "middle", "frame": "group", "dx": 5, "offset": -21},
 "resolve": {"axis": {"x": "independent", "y": "independent"}},
 "layer": [
  {"data": {"name": "weight"}, "transform": [{"filter": "datum.p === 'g'"}], "mark": {"type": "line", "color": "#a1379c", "strokeWidth": 1.2}, "encoding": {"x": {"field": "w", "type": "quantitative", "scale": {"domain": [6.5, 12.5], "nice": false, "zero": false}, "axis": {"orient": "bottom", "values": [7,8,9,10,11,12], "labelExpr": "'Week ' + datum.value", "title": null, "offset": -127, "tickSize": 4, "labelPadding": 118, "domainWidth": 2}}, "y": {"field": "v", "type": "quantitative", "scale": {"domain": [-30, 30], "nice": false}, "axis": {"orient": "left", "values": [-30,-20,-10,0,10,20,30], "labelExpr": "'' + datum.value", "tickSize": 5, "labelFontSize": 7, "labelPadding": -2, "title": "Mouse Weight (% of baseline)", "titlePadding": 5}}, "detail": {"field": "m", "type": "nominal"}}},
  {"data": {"name": "weight"}, "transform": [{"filter": "datum.p === 'g'"}], "mark": {"type": "point", "shape": "diamond", "filled": true, "size": 12, "color": "#a1379c", "opacity": 1}, "encoding": {"x": {"field": "w", "type": "quantitative", "axis": {"orient": "bottom", "values": [6.625,6.75,6.875,7.125,7.25,7.375,7.5,7.625,7.75,7.875,8.125,8.25,8.375,8.5,8.625,8.75,8.875,9.125,9.25,9.375,9.5,9.625,9.75,9.875,10.125,10.25,10.375,10.5,10.625,10.75,10.875,11.125,11.25,11.375,11.5,11.625,11.75,11.875,12.125,12.25,12.375], "labels": false, "tickSize": 2.5, "domain": false, "title": null, "offset": -127}}, "y": {"field": "v", "type": "quantitative", "axis": {"orient": "left", "values": [-29,-28,-27,-26,-25,-24,-23,-22,-21,-19,-18,-17,-16,-15,-14,-13,-12,-11,-9,-8,-7,-6,-5,-4,-3,-2,-1,1,2,3,4,5,6,7,8,9,11,12,13,14,15,16,17,18,19,21,22,23,24,25,26,27,28,29], "labels": false, "tickSize": 2.5, "domain": false, "title": null}}}}
 ]},
{"width": 330, "height": 254,
 "title": {"text": "anti-PD-1", "fontSize": 30, "anchor": "middle", "frame": "group", "dx": 0, "offset": -21},
 "resolve": {"axis": {"x": "independent", "y": "independent"}},
 "layer": [
  {"data": {"name": "weight"}, "transform": [{"filter": "datum.p === 'h'"}], "mark": {"type": "line", "color": "#f57cf0", "strokeWidth": 1.2}, "encoding": {"x": {"field": "w", "type": "quantitative", "scale": {"domain": [6.5, 12.5], "nice": false, "zero": false}, "axis": {"orient": "bottom", "values": [7,8,9,10,11,12], "labelExpr": "'Week ' + datum.value", "title": null, "offset": -127, "tickSize": 4, "labelPadding": 118, "domainWidth": 2}}, "y": {"field": "v", "type": "quantitative", "scale": {"domain": [-30, 30], "nice": false}, "axis": {"orient": "left", "values": [-30,-20,-10,0,10,20,30], "labelExpr": "'' + datum.value", "tickSize": 5, "labelFontSize": 7, "labelPadding": -2, "title": "Mouse Weight (% of baseline)", "titlePadding": 5}}, "detail": {"field": "m", "type": "nominal"}}},
  {"data": {"name": "weight"}, "transform": [{"filter": "datum.p === 'h'"}], "mark": {"type": "point", "shape": "triangle-up", "filled": true, "size": 12, "color": "#f57cf0", "opacity": 1}, "encoding": {"x": {"field": "w", "type": "quantitative", "axis": {"orient": "bottom", "values": [6.625,6.75,6.875,7.125,7.25,7.375,7.5,7.625,7.75,7.875,8.125,8.25,8.375,8.5,8.625,8.75,8.875,9.125,9.25,9.375,9.5,9.625,9.75,9.875,10.125,10.25,10.375,10.5,10.625,10.75,10.875,11.125,11.25,11.375,11.5,11.625,11.75,11.875,12.125,12.25,12.375], "labels": false, "tickSize": 2.5, "domain": false, "title": null, "offset": -127}}, "y": {"field": "v", "type": "quantitative", "axis": {"orient": "left", "values": [-29,-28,-27,-26,-25,-24,-23,-22,-21,-19,-18,-17,-16,-15,-14,-13,-12,-11,-9,-8,-7,-6,-5,-4,-3,-2,-1,1,2,3,4,5,6,7,8,9,11,12,13,14,15,16,17,18,19,21,22,23,24,25,26,27,28,29], "labels": false, "tickSize": 2.5, "domain": false, "title": null}}}}
 ]},
{"width": 330, "height": 254,
 "title": {"text": "anti-TIGIT", "fontSize": 30, "anchor": "middle", "frame": "group", "dx": 14, "offset": -21},
 "resolve": {"axis": {"x": "independent", "y": "independent"}},
 "layer": [
  {"data": {"name": "weight"}, "transform": [{"filter": "datum.p === 'i'"}], "mark": {"type": "line", "color": "#72cdea", "strokeWidth": 1.2}, "encoding": {"x": {"field": "w", "type": "quantitative", "scale": {"domain": [6.5, 12.5], "nice": false, "zero": false}, "axis": {"orient": "bottom", "values": [7,8,9,10,11,12], "labelExpr": "'Week ' + datum.value", "title": null, "offset": -127, "tickSize": 4, "labelPadding": 118, "domainWidth": 2}}, "y": {"field": "v", "type": "quantitative", "scale": {"domain": [-30, 30], "nice": false}, "axis": {"orient": "left", "values": [-30,-20,-10,0,10,20,30], "labelExpr": "'' + datum.value", "tickSize": 5, "labelFontSize": 7, "labelPadding": -2, "title": "Mouse Weight (% of baseline)", "titlePadding": 5}}, "detail": {"field": "m", "type": "nominal"}}},
  {"data": {"name": "weight"}, "transform": [{"filter": "datum.p === 'i'"}], "mark": {"type": "point", "shape": "circle", "size": 20, "fill": "#8fd3ea", "stroke": "#1a1a1a", "strokeWidth": 1.1, "opacity": 1, "fillOpacity": 1}, "encoding": {"x": {"field": "w", "type": "quantitative", "axis": {"orient": "bottom", "values": [6.625,6.75,6.875,7.125,7.25,7.375,7.5,7.625,7.75,7.875,8.125,8.25,8.375,8.5,8.625,8.75,8.875,9.125,9.25,9.375,9.5,9.625,9.75,9.875,10.125,10.25,10.375,10.5,10.625,10.75,10.875,11.125,11.25,11.375,11.5,11.625,11.75,11.875,12.125,12.25,12.375], "labels": false, "tickSize": 2.5, "domain": false, "title": null, "offset": -127}}, "y": {"field": "v", "type": "quantitative", "axis": {"orient": "left", "values": [-29,-28,-27,-26,-25,-24,-23,-22,-21,-19,-18,-17,-16,-15,-14,-13,-12,-11,-9,-8,-7,-6,-5,-4,-3,-2,-1,1,2,3,4,5,6,7,8,9,11,12,13,14,15,16,17,18,19,21,22,23,24,25,26,27,28,29], "labels": false, "tickSize": 2.5, "domain": false, "title": null}}}}
 ]},

{"width": 335.5, "height": 143, "data": {"values": [{"t": "j"}]}, "mark": {"type": "text", "fontSize": 42, "fontWeight": "bold", "align": "left", "baseline": "alphabetic", "color": "#000"}, "encoding": {"x": {"datum": -0.003, "type": "quantitative", "scale": {"domain": [0, 1]}, "axis": null}, "y": {"datum": 0.783, "type": "quantitative", "scale": {"domain": [0, 1], "reverse": true}, "axis": null}, "text": {"field": "t"}}},
{"width": 330, "height": 143, "data": {"values": [{"t": "k"}]}, "mark": {"type": "text", "fontSize": 42, "fontWeight": "bold", "align": "left", "baseline": "alphabetic", "color": "#000"}, "encoding": {"x": {"datum": 0.0015, "type": "quantitative", "scale": {"domain": [0, 1]}, "axis": null}, "y": {"datum": 0.783, "type": "quantitative", "scale": {"domain": [0, 1], "reverse": true}, "axis": null}, "text": {"field": "t"}}},
{"width": 330, "height": 143, "data": {"values": [{"t": "l"}]}, "mark": {"type": "text", "fontSize": 42, "fontWeight": "bold", "align": "left", "baseline": "alphabetic", "color": "#000"}, "encoding": {"x": {"datum": 0.0136, "type": "quantitative", "scale": {"domain": [0, 1]}, "axis": null}, "y": {"datum": 0.783, "type": "quantitative", "scale": {"domain": [0, 1], "reverse": true}, "axis": null}, "text": {"field": "t"}}},

{"width": 330, "height": 254,
 "title": {"text": ["anti-PD-1", "+ CD40a"], "fontSize": 30, "lineHeight": 35, "anchor": "start", "align": "left", "frame": "group", "dx": 101, "offset": 1},
 "resolve": {"axis": {"x": "independent", "y": "independent"}},
 "layer": [
  {"data": {"name": "weight"}, "transform": [{"filter": "datum.p === 'j'"}], "mark": {"type": "line", "color": "#1d5d97", "strokeWidth": 1.2}, "encoding": {"x": {"field": "w", "type": "quantitative", "scale": {"domain": [6.5, 12.5], "nice": false, "zero": false}, "axis": {"orient": "bottom", "values": [7,8,9,10,11,12], "labelExpr": "'Week ' + datum.value", "title": null, "offset": -127, "tickSize": 4, "labelPadding": 118, "domainWidth": 2}}, "y": {"field": "v", "type": "quantitative", "scale": {"domain": [-30, 30], "nice": false}, "axis": {"orient": "left", "values": [-30,-20,-10,0,10,20,30], "labelExpr": "'' + datum.value", "tickSize": 5, "labelFontSize": 7, "labelPadding": -2, "title": "Mouse Weight (% of baseline)", "titlePadding": 5}}, "detail": {"field": "m", "type": "nominal"}}},
  {"data": {"name": "weight"}, "transform": [{"filter": "datum.p === 'j'"}], "mark": {"type": "point", "shape": "square", "filled": true, "size": 24, "color": "#1d5d97", "opacity": 1}, "encoding": {"x": {"field": "w", "type": "quantitative", "axis": {"orient": "bottom", "values": [6.625,6.75,6.875,7.125,7.25,7.375,7.5,7.625,7.75,7.875,8.125,8.25,8.375,8.5,8.625,8.75,8.875,9.125,9.25,9.375,9.5,9.625,9.75,9.875,10.125,10.25,10.375,10.5,10.625,10.75,10.875,11.125,11.25,11.375,11.5,11.625,11.75,11.875,12.125,12.25,12.375], "labels": false, "tickSize": 2.5, "domain": false, "title": null, "offset": -127}}, "y": {"field": "v", "type": "quantitative", "axis": {"orient": "left", "values": [-29,-28,-27,-26,-25,-24,-23,-22,-21,-19,-18,-17,-16,-15,-14,-13,-12,-11,-9,-8,-7,-6,-5,-4,-3,-2,-1,1,2,3,4,5,6,7,8,9,11,12,13,14,15,16,17,18,19,21,22,23,24,25,26,27,28,29], "labels": false, "tickSize": 2.5, "domain": false, "title": null}}}}
 ]},
{"width": 330, "height": 254,
 "title": {"text": ["anti-TIGIT", "+ CD40a"], "fontSize": 30, "lineHeight": 35, "anchor": "start", "align": "left", "frame": "group", "dx": 98, "offset": 1},
 "resolve": {"axis": {"x": "independent", "y": "independent"}},
 "layer": [
  {"data": {"name": "weight"}, "transform": [{"filter": "datum.p === 'k'"}], "mark": {"type": "line", "color": "#5b9617", "strokeWidth": 1.2}, "encoding": {"x": {"field": "w", "type": "quantitative", "scale": {"domain": [6.5, 12.5], "nice": false, "zero": false}, "axis": {"orient": "bottom", "values": [7,8,9,10,11,12], "labelExpr": "'Week ' + datum.value", "title": null, "offset": -127, "tickSize": 4, "labelPadding": 118, "domainWidth": 2}}, "y": {"field": "v", "type": "quantitative", "scale": {"domain": [-30, 30], "nice": false}, "axis": {"orient": "left", "values": [-30,-20,-10,0,10,20,30], "labelExpr": "'' + datum.value", "tickSize": 5, "labelFontSize": 7, "labelPadding": -2, "title": "Mouse Weight (% of baseline)", "titlePadding": 5}}, "detail": {"field": "m", "type": "nominal"}}},
  {"data": {"name": "weight"}, "transform": [{"filter": "datum.p === 'k'"}], "mark": {"type": "point", "shape": "circle", "filled": true, "size": 14, "color": "#5b9617", "opacity": 1}, "encoding": {"x": {"field": "w", "type": "quantitative", "axis": {"orient": "bottom", "values": [6.625,6.75,6.875,7.125,7.25,7.375,7.5,7.625,7.75,7.875,8.125,8.25,8.375,8.5,8.625,8.75,8.875,9.125,9.25,9.375,9.5,9.625,9.75,9.875,10.125,10.25,10.375,10.5,10.625,10.75,10.875,11.125,11.25,11.375,11.5,11.625,11.75,11.875,12.125,12.25,12.375], "labels": false, "tickSize": 2.5, "domain": false, "title": null, "offset": -127}}, "y": {"field": "v", "type": "quantitative", "axis": {"orient": "left", "values": [-29,-28,-27,-26,-25,-24,-23,-22,-21,-19,-18,-17,-16,-15,-14,-13,-12,-11,-9,-8,-7,-6,-5,-4,-3,-2,-1,1,2,3,4,5,6,7,8,9,11,12,13,14,15,16,17,18,19,21,22,23,24,25,26,27,28,29], "labels": false, "tickSize": 2.5, "domain": false, "title": null}}}}
 ]},
{"width": 330, "height": 254,
 "title": {"text": ["anti-TIGIT + anti-PD-1", "+ CD40a"], "fontSize": 30, "lineHeight": 35, "anchor": "middle", "frame": "group", "dx": 13, "offset": 1},
 "resolve": {"axis": {"x": "independent", "y": "independent"}},
 "layer": [
  {"data": {"name": "weight"}, "transform": [{"filter": "datum.p === 'l'"}], "mark": {"type": "line", "color": "#f67e6f", "strokeWidth": 1.2}, "encoding": {"x": {"field": "w", "type": "quantitative", "scale": {"domain": [6.5, 12.5], "nice": false, "zero": false}, "axis": {"orient": "bottom", "values": [7,8,9,10,11,12], "labelExpr": "'Week ' + datum.value", "title": null, "offset": -127, "tickSize": 4, "labelPadding": 118, "domainWidth": 2}}, "y": {"field": "v", "type": "quantitative", "scale": {"domain": [-30, 30], "nice": false}, "axis": {"orient": "left", "values": [-30,-20,-10,0,10,20,30], "labelExpr": "'' + datum.value", "tickSize": 5, "labelFontSize": 7, "labelPadding": -2, "title": "Mouse Weight (% of baseline)", "titlePadding": 5}}, "detail": {"field": "m", "type": "nominal"}}},
  {"data": {"name": "weight"}, "transform": [{"filter": "datum.p === 'l'"}], "mark": {"type": "point", "shape": "triangle-down", "filled": true, "size": 14, "color": "#f67e6f", "opacity": 1}, "encoding": {"x": {"field": "w", "type": "quantitative", "axis": {"orient": "bottom", "values": [6.625,6.75,6.875,7.125,7.25,7.375,7.5,7.625,7.75,7.875,8.125,8.25,8.375,8.5,8.625,8.75,8.875,9.125,9.25,9.375,9.5,9.625,9.75,9.875,10.125,10.25,10.375,10.5,10.625,10.75,10.875,11.125,11.25,11.375,11.5,11.625,11.75,11.875,12.125,12.25,12.375], "labels": false, "tickSize": 2.5, "domain": false, "title": null, "offset": -127}}, "y": {"field": "v", "type": "quantitative", "axis": {"orient": "left", "values": [-29,-28,-27,-26,-25,-24,-23,-22,-21,-19,-18,-17,-16,-15,-14,-13,-12,-11,-9,-8,-7,-6,-5,-4,-3,-2,-1,1,2,3,4,5,6,7,8,9,11,12,13,14,15,16,17,18,19,21,22,23,24,25,26,27,28,29], "labels": false, "tickSize": 2.5, "domain": false, "title": null}}}}
 ]}
]
}
